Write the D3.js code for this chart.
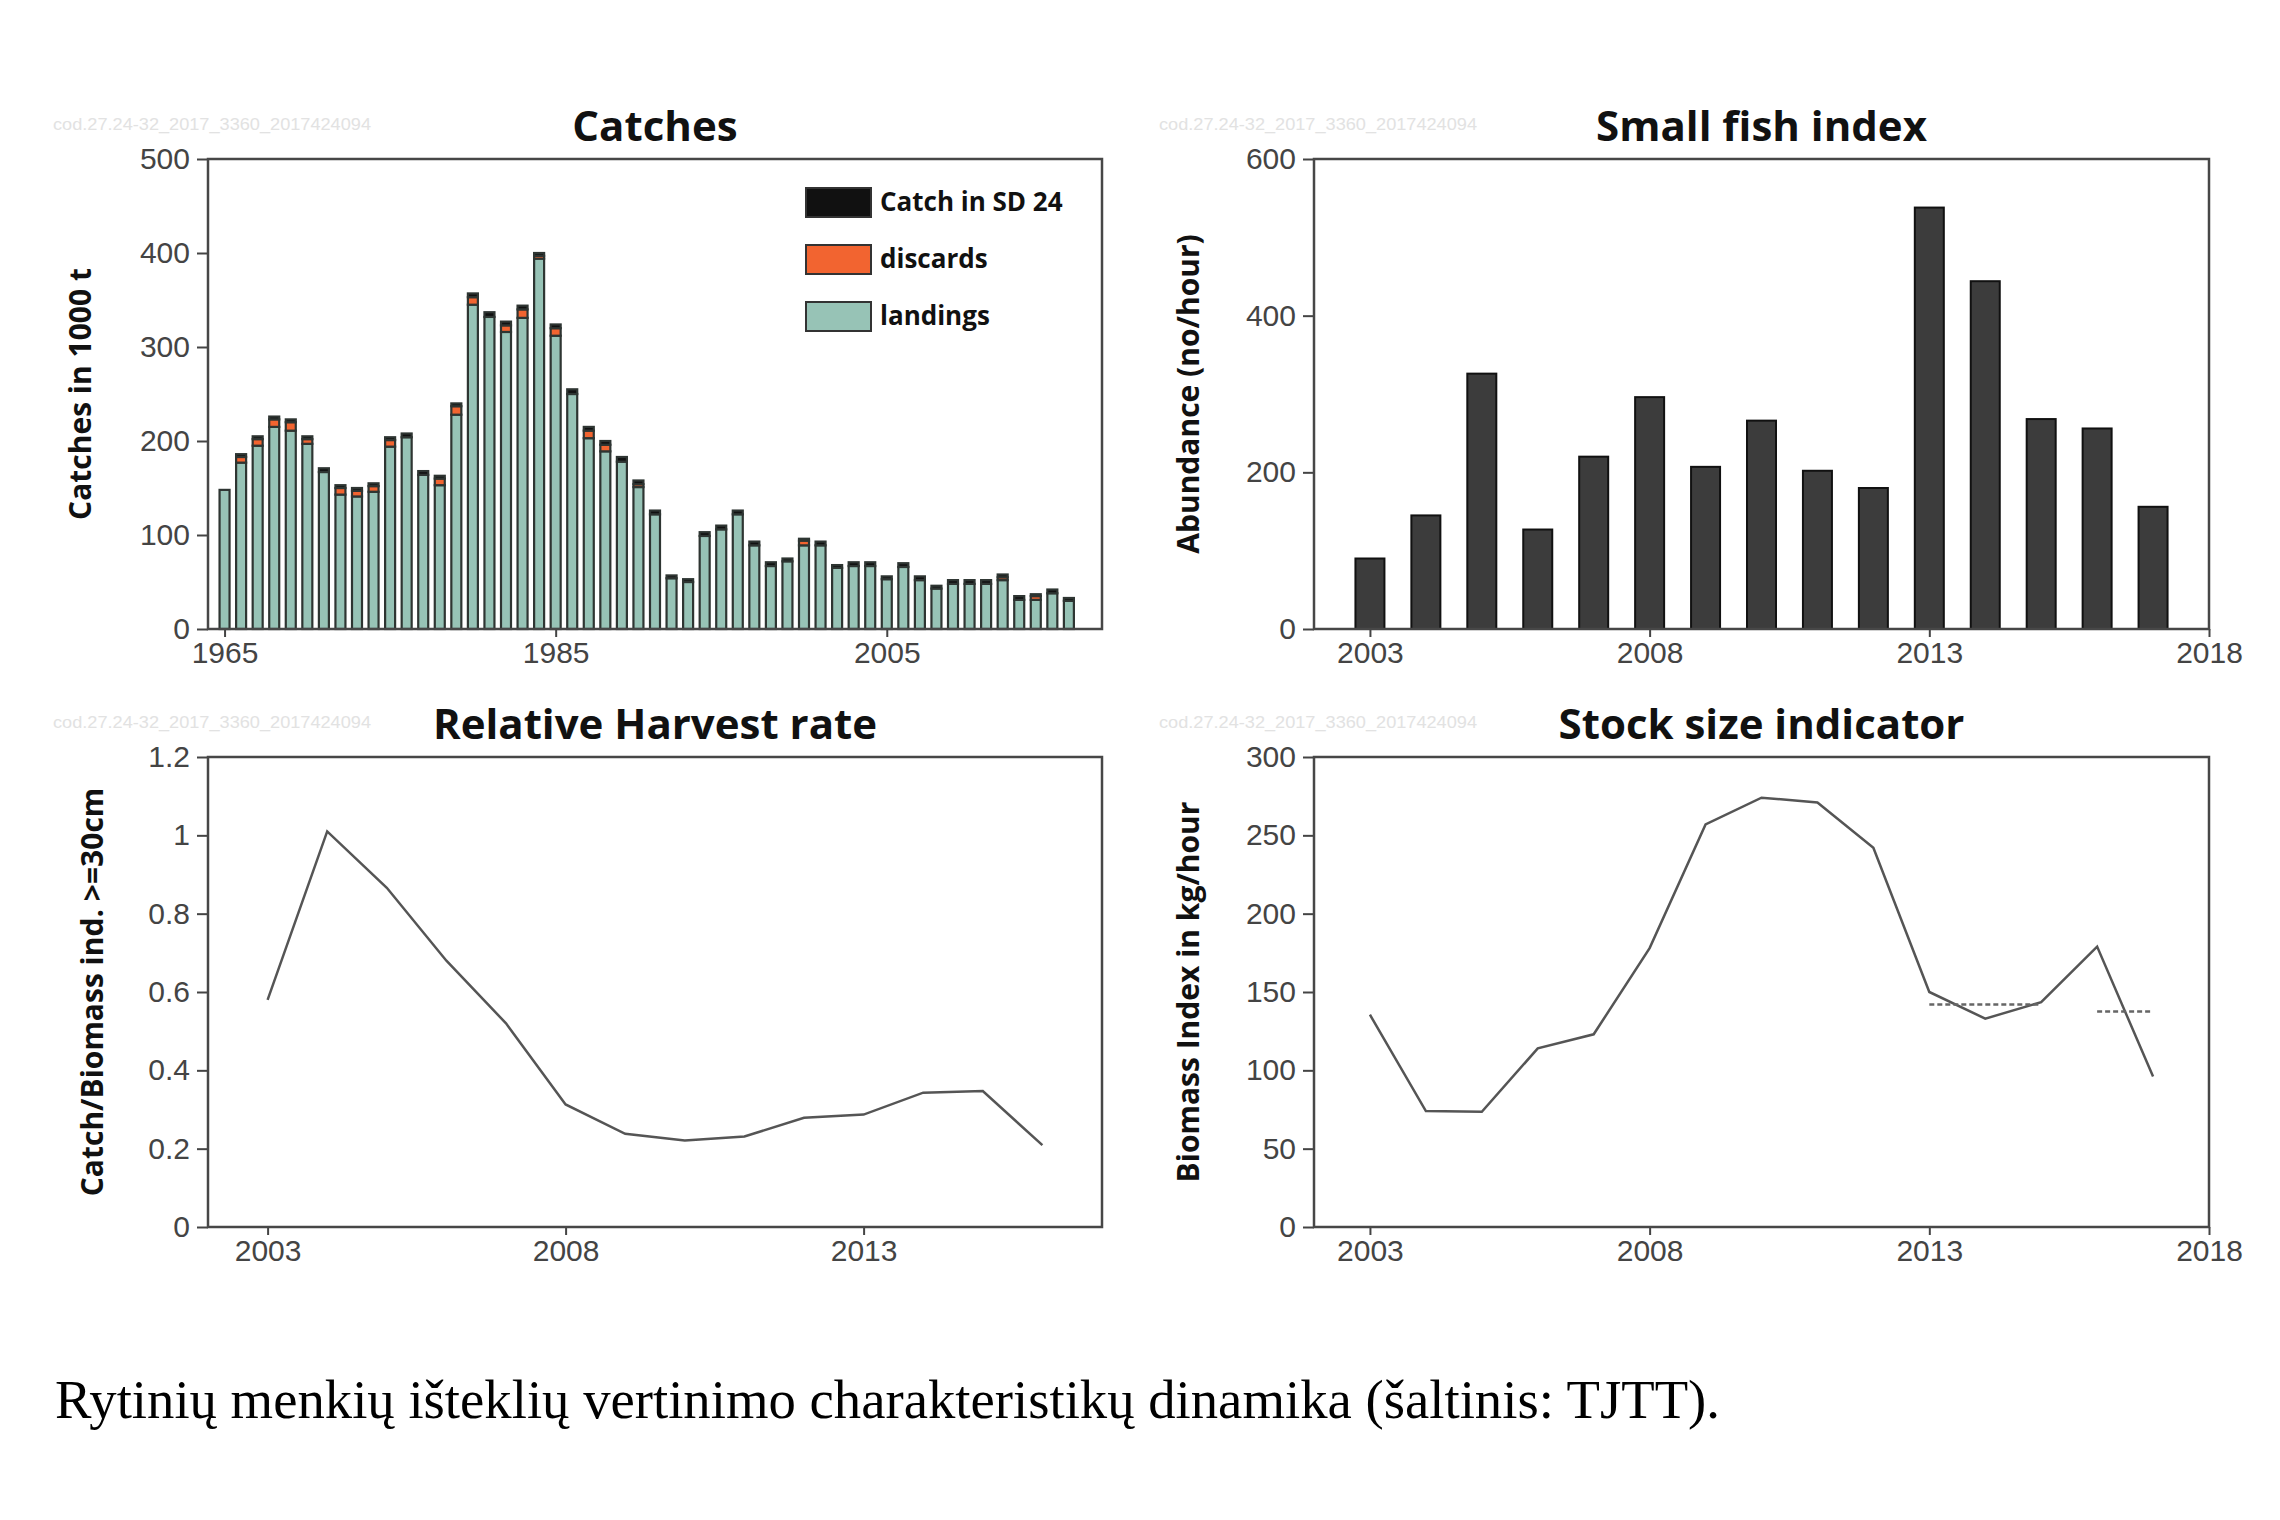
<!DOCTYPE html>
<html>
<head>
<meta charset="utf-8">
<script src="https://cdn.jsdelivr.net/npm/d3@7"></script>
<style>
  body { margin: 0; background: #fff; }
  svg { display: block; }
  .tick text { font-family: "Liberation Sans", Arial, sans-serif; font-size: 30px; fill: #444; }
  .tick line { stroke: #444; stroke-width: 2; }
</style>
</head>
<body>
<div id="chart"></div>
<script>
// Catches (1000 t)
const catchYears = d3.range(1965, 2017)
const landings = [148, 177, 195, 215, 211, 197, 167, 143, 141, 146, 194, 204, 164, 153, 228, 345, 332, 316, 331, 394, 312, 250, 203, 189, 178, 151, 122,
  54, 50, 99, 106, 122, 89, 67, 72, 89, 89, 65, 67, 67, 53, 66, 52, 43, 48, 48, 48, 52, 31, 31, 38, 30]
const discards = [0, 6, 7, 8, 9, 5, 0, 7, 6, 6, 7, 0, 0, 7, 9, 8, 0, 7, 9, 3, 8, 0, 8, 7, 0, 3, 0,
  0, 0, 0, 0, 0, 0, 0, 0, 5, 0, 0, 0, 0, 0, 0, 0, 0, 0, 0, 0, 3, 0, 4, 0, 0]
const sd24 = [0, 3, 3, 3, 3, 3, 4, 3, 3, 3, 3, 4, 4, 3, 3, 4, 5, 4, 4, 3, 4, 5, 4, 4, 5, 4, 4,
  3, 3, 4, 4, 4, 4, 4, 3, 2, 4, 3, 4, 4, 3, 4, 4, 3, 4, 4, 4, 3, 4, 2, 4, 3]
const catchKeys = ["landings", "discards", "sd24"]
const catchLegend = ["Catch in SD 24", "discards", "landings"]
const catchColors = {landings: "#97c3b6", discards: "#f26430", sd24: "#111111"}
const catchTicksX = [1965, 1985, 2005]
const catchTicksY = [0, 100, 200, 300, 400, 500]

// Small fish index (no/hour)
const surveyYears = d3.range(2003, 2018)
const smallFish = [90, 145, 326, 127, 220, 296, 207, 266, 202, 180, 538, 444, 268, 256, 156]
const smallFishTicksY = [0, 200, 400, 600]

// Relative harvest rate
const harvestYears = d3.range(2003, 2017)
const harvestRate = [0.58, 1.01, 0.866, 0.68, 0.52, 0.313, 0.238, 0.221, 0.231, 0.279, 0.287, 0.343, 0.347, 0.209]
const harvestTicksY = [0, 0.2, 0.4, 0.6, 0.8, 1, 1.2]
const harvestTicksX = [2003, 2008, 2013]

// Stock size indicator (kg/hour)
const biomass = [135.5, 74, 73.5, 114, 123, 178, 257, 274, 271, 242, 150, 133, 143.5, 179, 96]
const meanStart = [2013, 2016]
const meanEnd = [2015, 2017]
const meanValue = [142, 137.5]
const biomassTicksY = [0, 50, 100, 150, 200, 250, 300]
const surveyTicksX = [2003, 2008, 2013, 2018]

const watermark = "cod.27.24-32_2017_3360_2017424094"
const caption = "Rytinių menkių išteklių vertinimo charakteristikų dinamika (šaltinis: TJTT)."

const W = 2280, H = 1520
const svg = d3.select("#chart").append("svg")
  .attr("width", W)
  .attr("height", H)
  .attr("viewBox", [0, 0, W, H])

svg.append("rect").attr("width", W).attr("height", H).attr("fill", "#fff")

function panel(box, opts) {
  const g = svg.append("g")
  const x = d3.scaleLinear().domain(opts.xDomain).range([box.left, box.right])
  const y = d3.scaleLinear().domain(opts.yDomain).range([box.bottom, box.top])

  g.append("text")
    .attr("x", box.left - 155)
    .attr("y", box.top - 29)
    .attr("textLength", 318)
    .attr("lengthAdjust", "spacingAndGlyphs")
    .text(watermark)
    .style("font-family", "Liberation Sans, Arial, sans-serif")
    .style("font-size", "17px")
    .style("fill", "#e2e2e2")

  g.append("text")
    .attr("x", (box.left + box.right) / 2)
    .attr("y", box.top - 18)
    .attr("text-anchor", "middle")
    .text(opts.title)
    .style("font-family", "Open Sans, sans-serif")
    .style("font-weight", "700")
    .style("font-size", "42px")
    .style("fill", "#111")

  g.append("text")
    .attr("transform", `translate(${box.left + opts.ylabOffset},${(box.top + box.bottom) / 2}) rotate(-90)`)
    .attr("text-anchor", "middle")
    .attr("dy", "0.35em")
    .text(opts.ylab)
    .style("font-family", "Open Sans, sans-serif")
    .style("font-weight", "700")
    .style("font-size", "30px")
    .style("fill", "#111")

  g.append("g")
    .attr("transform", `translate(${box.left},0)`)
    .call(d3.axisLeft(y).tickValues(opts.yTicks).tickSize(11).tickPadding(7).tickFormat(d3.format("")))
    .call(a => a.select(".domain").remove())

  g.append("g")
    .attr("transform", `translate(0,${box.bottom})`)
    .call(d3.axisBottom(x).tickValues(opts.xTicks).tickSize(8).tickPadding(5).tickFormat(d3.format("d")))
    .call(a => a.select(".domain").remove())

  const plot = g.append("g")
  g.append("rect")
    .attr("x", box.left)
    .attr("y", box.top)
    .attr("width", box.right - box.left)
    .attr("height", box.bottom - box.top)
    .attr("fill", "none")
    .attr("stroke", "#474747")
    .attr("stroke-width", 2.5)

  return {plot, x, y}
}

// Catches
{
  const box = {left: 208, right: 1102, top: 159, bottom: 629}
  const {plot, x, y} = panel(box, {
    title: "Catches", ylab: "Catches in 1000 t", ylabOffset: -128,
    xDomain: [1964, 2018], yDomain: [0, 500], xTicks: catchTicksX, yTicks: catchTicksY
  })
  const table = catchYears.map((yr, i) => ({year: yr, landings: landings[i], discards: discards[i], sd24: sd24[i]}))
  const series = d3.stack().keys(catchKeys)(table)
  const bw = 10
  plot.selectAll("g.layer")
    .data(series)
    .join("g")
    .attr("class", "layer")
    .attr("fill", d => catchColors[d.key])
    .selectAll("rect")
    .data(d => d.filter(s => s[1] > s[0]))
    .join("rect")
    .attr("x", d => x(d.data.year) - bw / 2)
    .attr("y", d => y(d[1]))
    .attr("width", bw)
    .attr("height", d => y(d[0]) - y(d[1]))
    .attr("stroke", "#2e3532")
    .attr("stroke-width", 2.2)

  const legendKeys = ["sd24", "discards", "landings"]
  const leg = plot.append("g").attr("transform", "translate(806,188)")
  leg.selectAll("rect")
    .data(legendKeys)
    .join("rect")
    .attr("x", 0)
    .attr("y", (d, i) => i * 57)
    .attr("width", 65)
    .attr("height", 29)
    .attr("fill", d => catchColors[d])
    .attr("stroke", "#333")
    .attr("stroke-width", 2)
  leg.selectAll("text")
    .data(catchLegend)
    .join("text")
    .attr("x", 74)
    .attr("y", (d, i) => i * 57 + 23)
    .text(d => d)
    .style("font-family", "Open Sans, sans-serif")
    .style("font-weight", "700")
    .style("font-size", "26px")
    .style("fill", "#111")
}

// Small fish index
{
  const box = {left: 1314, right: 2209, top: 159, bottom: 629}
  const {plot, x, y} = panel(box, {
    title: "Small fish index", ylab: "Abundance (no/hour)", ylabOffset: -126,
    xDomain: [2002, 2018], yDomain: [0, 600], xTicks: surveyTicksX, yTicks: smallFishTicksY
  })
  const bw = 29
  plot.selectAll("rect")
    .data(smallFish)
    .join("rect")
    .attr("x", (d, i) => x(surveyYears[i]) - bw / 2)
    .attr("y", d => y(d))
    .attr("width", bw)
    .attr("height", d => y(0) - y(d))
    .attr("fill", "#3c3c3c")
    .attr("stroke", "#111")
    .attr("stroke-width", 2)
}

// Relative harvest rate
{
  const box = {left: 208, right: 1102, top: 757, bottom: 1227}
  const {plot, x, y} = panel(box, {
    title: "Relative Harvest rate", ylab: "Catch/Biomass ind. >=30cm", ylabOffset: -116,
    xDomain: [2002, 2017], yDomain: [0, 1.2], xTicks: harvestTicksX, yTicks: harvestTicksY
  })
  plot.append("path")
    .datum(harvestRate)
    .attr("fill", "none")
    .attr("stroke", "#555")
    .attr("stroke-width", 2.5)
    .attr("d", d3.line().x((d, i) => x(harvestYears[i])).y(d => y(d)))
}

// Stock size indicator
{
  const box = {left: 1314, right: 2209, top: 757, bottom: 1227}
  const {plot, x, y} = panel(box, {
    title: "Stock size indicator", ylab: "Biomass Index in kg/hour", ylabOffset: -126,
    xDomain: [2002, 2018], yDomain: [0, 300], xTicks: surveyTicksX, yTicks: biomassTicksY
  })
  plot.append("path")
    .datum(biomass)
    .attr("fill", "none")
    .attr("stroke", "#555")
    .attr("stroke-width", 2.5)
    .attr("d", d3.line().x((d, i) => x(surveyYears[i])).y(d => y(d)))
  plot.selectAll("line.mean")
    .data(meanValue)
    .join("line")
    .attr("class", "mean")
    .attr("x1", (d, i) => x(meanStart[i]))
    .attr("x2", (d, i) => x(meanEnd[i]))
    .attr("y1", d => y(d))
    .attr("y2", d => y(d))
    .attr("stroke", "#666")
    .attr("stroke-width", 2.5)
    .attr("stroke-dasharray", "5,3")
}

svg.append("text")
  .attr("x", 55)
  .attr("y", 1418)
  .attr("textLength", 1665)
  .attr("lengthAdjust", "spacingAndGlyphs")
  .text(caption)
  .style("font-family", "Liberation Serif, Times New Roman, serif")
  .style("font-size", "54px")
  .style("fill", "#000")
</script>
</body>
</html>
